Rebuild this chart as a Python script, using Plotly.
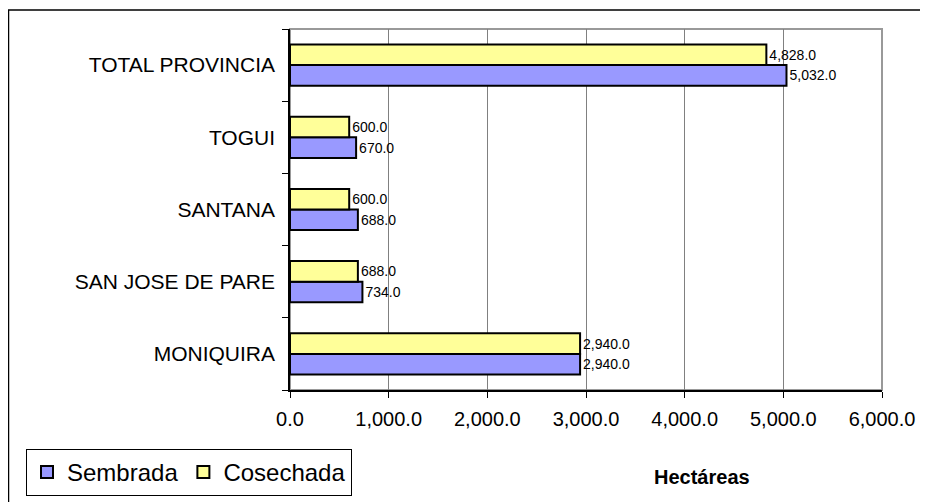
import plotly.graph_objects as go

# categories bottom to top
municipios = ["MONIQUIRA", "SAN JOSE DE PARE", "SANTANA", "TOGUI", "TOTAL PROVINCIA"]
sembrada = [2940.0, 734.0, 688.0, 670.0, 5032.0]
cosechada = [2940.0, 688.0, 600.0, 600.0, 4828.0]
x_ticks = [0, 1000, 2000, 3000, 4000, 5000, 6000]

FONT = "Liberation Sans, Arial, sans-serif"

fig = go.Figure()
fig.add_trace(go.Bar(
    y=municipios, x=sembrada, name="Sembrada", orientation="h",
    marker=dict(color="#9999FF", line=dict(color="black", width=2)),
    texttemplate="%{x:,.1f}", textposition="outside", constraintext="none",
    textfont=dict(size=14, color="black", family=FONT), cliponaxis=False,
))
fig.add_trace(go.Bar(
    y=municipios, x=cosechada, name="Cosechada", orientation="h",
    marker=dict(color="#FFFF99", line=dict(color="black", width=2)),
    texttemplate="%{x:,.1f}", textposition="outside", constraintext="none",
    textfont=dict(size=14, color="black", family=FONT), cliponaxis=False,
))

# page has an 8px body margin, so figure coords = page coords - 8
FW, FH = 920, 494
L, R, T, B = 282, 874, 21, 382
W, H = R - L, B - T

fig.update_layout(
    width=FW, height=FH,
    margin=dict(l=L, r=FW - R, t=T, b=FH - B, autoexpand=False),
    paper_bgcolor="white", plot_bgcolor="white",
    font=dict(family=FONT, color="black"),
    barmode="group", bargap=0.43, bargroupgap=0,
    legend=dict(
        orientation="h", x=(18 - L) / W, y=(B - 441) / H,
        xanchor="left", yanchor="top",
        font=dict(size=24), bordercolor="black", borderwidth=1,
        itemwidth=30, traceorder="normal", tracegroupgap=0,
    ),
    shapes=[
        # gray plot-area frame
        dict(type="rect", xref="paper", yref="paper", x0=0, x1=1, y0=0, y1=1,
             line=dict(color="#999999", width=2), layer="below"),
        # outer chart border
        dict(type="rect", xref="paper", yref="paper",
             x0=(0.5 - L) / W, x1=1.2, y0=-0.6, y1=1 + (T - 2) / H,
             line=dict(color="black", width=1.5)),
    ],
    annotations=[
        dict(text="<b>Hectáreas</b>", xref="paper", yref="paper",
             x=(744 - L) / W, y=(B - 482) / H, showarrow=False,
             font=dict(size=20)),
    ],
)

fig.update_xaxes(
    range=[0, 6000], tickvals=x_ticks, tickformat=",.1f",
    showgrid=True, gridcolor="#808080", gridwidth=1,
    showline=True, linecolor="black", linewidth=1.5,
    ticks="outside", ticklen=6, tickcolor="black", automargin=False,
    tickfont=dict(size=20), ticklabelstandoff=4, zeroline=False,
)
fig.update_yaxes(
    showline=True, linecolor="black", linewidth=1.5, automargin=False,
    ticks="outside", ticklen=6, tickcolor="black", tickson="boundaries",
    tickfont=dict(size=21), ticklabelstandoff=9, showgrid=False,
)

fig.write_html("out.html")
